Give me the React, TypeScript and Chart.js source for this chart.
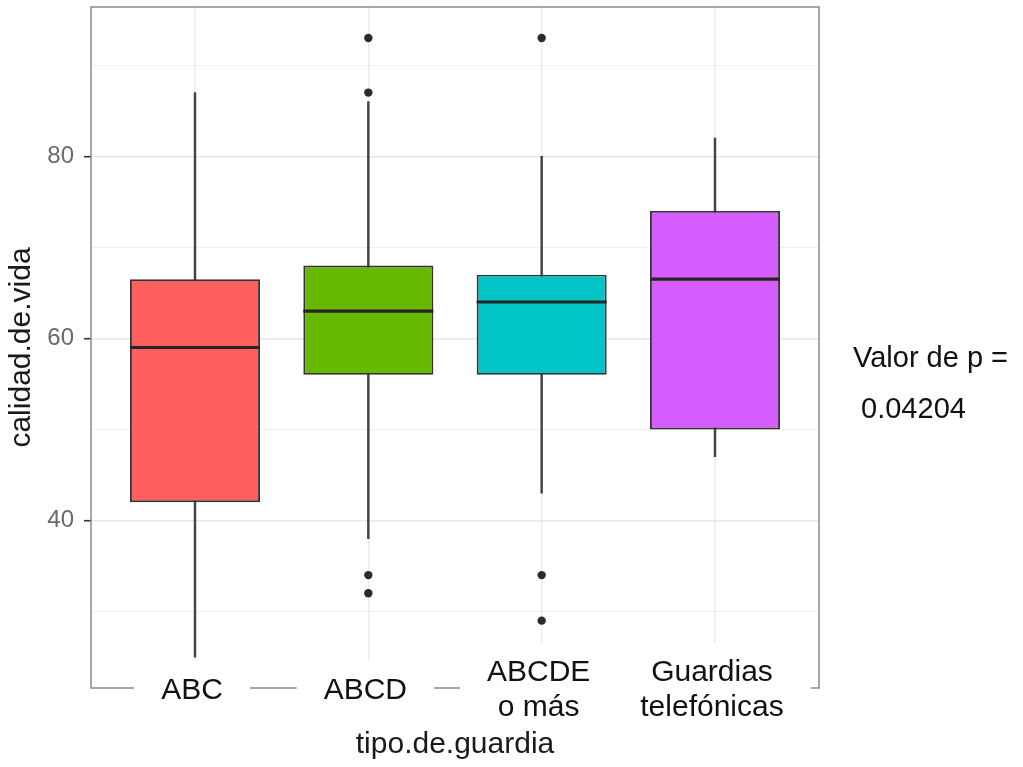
import React, { useEffect, useRef } from 'react';
import { Chart, registerables } from 'chart.js';

Chart.register(...registerables);

// Groups along the x axis and their (possibly two-line) tick labels
const categories = ['ABC', 'ABCD', 'ABCDE o más', 'Guardias telefónicas'];
const tickLabels = [['ABC'], ['ABCD'], ['ABCDE', 'o más'], ['Guardias', 'telefónicas']];

// Box-plot summary per group
const whiskerLow = [25, 38, 43, 47];
const quartile1 = [42, 56, 56, 50];
const medians = [59, 63, 64, 66.5];
const quartile3 = [66.5, 68, 67, 74];
const whiskerHigh = [87, 86, 80, 82];
const outliers = [[], [93, 87, 34, 32], [93, 34, 29], []];

const fillColors = ['#FF5F5F', '#66B800', '#00C4C6', '#D55CFF'];

// y axis: range, gridline values and which of them carry labels
const yMin = 21.6;
const yMax = 96.4;
const yGridValues = [30, 40, 50, 60, 70, 80, 90];
const yLabelled = [40, 60, 80];

const pValueText = ['Valor de p =', ' 0.04204'];

const FONT = "'Liberation Sans', Arial, Helvetica, sans-serif";

const boxExtras = {
  id: 'boxExtras',
  beforeDatasetsDraw(chart: any) {
    // panel border
    const { ctx, chartArea: a } = chart;
    ctx.save();
    ctx.strokeStyle = '#8a8a8a';
    ctx.lineWidth = 1.5;
    ctx.strokeRect(a.left, a.top, a.right - a.left, a.bottom - a.top);
    ctx.restore();
  },
  afterDatasetsDraw(chart: any) {
    // median line across each box
    const { ctx } = chart;
    const meta = chart.getDatasetMeta(1);
    const yScale = chart.scales.y;
    ctx.save();
    ctx.strokeStyle = '#262626';
    ctx.lineWidth = 3.2;
    meta.data.forEach((el: any, i: number) => {
      const { x, width } = el.getProps(['x', 'width'], true);
      const py = yScale.getPixelForValue(medians[i]);
      ctx.beginPath();
      ctx.moveTo(x - width / 2, py);
      ctx.lineTo(x + width / 2, py);
      ctx.stroke();
    });
    ctx.restore();
  },
  afterDraw(chart: any) {
    const { ctx, chartArea } = chart;
    const xScale = chart.scales.x;

    // group labels sit on the panel's lower edge, each on a white plate
    ctx.save();
    ctx.font = `30px ${FONT}`;
    ctx.textAlign = 'center';
    ctx.textBaseline = 'middle';
    const lineH = 35;
    const mid = chartArea.bottom + 2.5;
    tickLabels.forEach((lines, i) => {
      const cx = xScale.getPixelForValue(i + 1) - 3;
      const widest = Math.max(...lines.map((l) => ctx.measureText(l).width));
      const first = mid - ((lines.length - 1) / 2) * lineH;
      const top = first - 30;
      ctx.fillStyle = '#ffffff';
      ctx.fillRect(cx - widest / 2 - 27, top, widest + 54, chartArea.bottom + 6 - top);
      ctx.fillStyle = '#111111';
      lines.forEach((l, j) => ctx.fillText(l, cx, first + j * lineH));
    });
    ctx.restore();

    // p-value note to the right of the panel
    ctx.save();
    ctx.fillStyle = '#111111';
    ctx.font = `29px ${FONT}`;
    ctx.textAlign = 'left';
    ctx.textBaseline = 'alphabetic';
    const x = chartArea.right + 34;
    pValueText.forEach((t, i) => ctx.fillText(t, x, chartArea.top + 360 + i * 51));
    ctx.restore();
  },
};

export default function App() {
  const canvasRef = useRef<HTMLCanvasElement | null>(null);

  useEffect(() => {
    if (!canvasRef.current) return;
    Chart.defaults.font.family = FONT;

    const whiskerData = categories.map((_, i) => ({ x: i + 1, y: [whiskerLow[i], whiskerHigh[i]] }));
    const boxData = categories.map((_, i) => ({ x: i + 1, y: [quartile1[i], quartile3[i]] }));
    const outlierData = outliers.flatMap((vals, i) => vals.map((v) => ({ x: i + 1, y: v })));

    const chart = new Chart(canvasRef.current, {
      type: 'bar',
      data: {
        datasets: [
          {
            label: 'whiskers',
            data: whiskerData as any,
            backgroundColor: '#444444',
            borderWidth: 0,
            barThickness: 1.8,
            grouped: false,
            order: 3,
          },
          {
            label: 'calidad.de.vida',
            data: boxData as any,
            backgroundColor: fillColors,
            borderColor: '#333333',
            borderWidth: 1.9,
            borderSkipped: false,
            categoryPercentage: 0.75,
            barPercentage: 1,
            grouped: false,
            order: 2,
          },
          {
            type: 'scatter',
            label: 'outliers',
            data: outlierData as any,
            pointRadius: 4.2,
            pointBackgroundColor: '#2b2b2b',
            pointBorderWidth: 0,
            order: 1,
          } as any,
        ],
      },
      options: {
        animation: false,
        responsive: false,
        events: [],
        layout: { padding: { top: 7, right: 204, bottom: 0, left: 0 } },
        plugins: { legend: { display: false }, tooltip: { enabled: false } },
        scales: {
          x: {
            type: 'linear',
            min: 0.4,
            max: 4.6,
            offset: false,
            afterBuildTicks: (s: any) => {
              s.ticks = categories.map((_, i) => ({ value: i + 1 }));
            },
            afterFit: (s: any) => {
              s.height = 79;
              s.paddingLeft = 0;
              s.paddingRight = 0;
            },
            grid: { color: '#ebebeb', lineWidth: 1.4, drawTicks: false, offset: false },
            border: { display: false },
            ticks: { display: false },
            title: {
              display: true,
              text: 'tipo.de.guardia',
              color: '#1a1a1a',
              font: { size: 30 },
              padding: { top: 0, bottom: 4 },
            },
          },
          y: {
            type: 'linear',
            min: yMin,
            max: yMax,
            afterBuildTicks: (s: any) => {
              s.ticks = yGridValues.map((v) => ({ value: v }));
            },
            afterFit: (s: any) => {
              s.width = 91;
              s.paddingTop = 0;
              s.paddingBottom = 0;
            },
            grid: {
              color: (c: any) => (yLabelled.includes(c.tick?.value) ? '#e8e8e8' : '#efefef'),
              lineWidth: (c: any) => (yLabelled.includes(c.tick?.value) ? 1.4 : 1.1),
              tickLength: 7,
              tickWidth: 1.6,
              tickColor: (c: any) => (yLabelled.includes(c.tick?.value) ? '#333333' : 'rgba(0,0,0,0)'),
            },
            border: { display: false },
            ticks: {
              autoSkip: false,
              padding: 10,
              color: '#6a6a6a',
              font: { size: 24 },
              callback: (v: any) => (yLabelled.includes(Number(v)) ? String(v) : ''),
            },
            title: {
              display: true,
              text: 'calidad.de.vida',
              color: '#1a1a1a',
              font: { size: 30 },
              padding: { top: 4, bottom: 0 },
            },
          },
        },
      },
      plugins: [boxExtras],
    });

    return () => chart.destroy();
  }, []);

  return (
    <div style={{ position: 'absolute', left: 0, top: 0, width: 1023, height: 767, background: '#ffffff' }}>
      <canvas ref={canvasRef} width={1023} height={767} style={{ display: 'block' }} />
    </div>
  );
}
